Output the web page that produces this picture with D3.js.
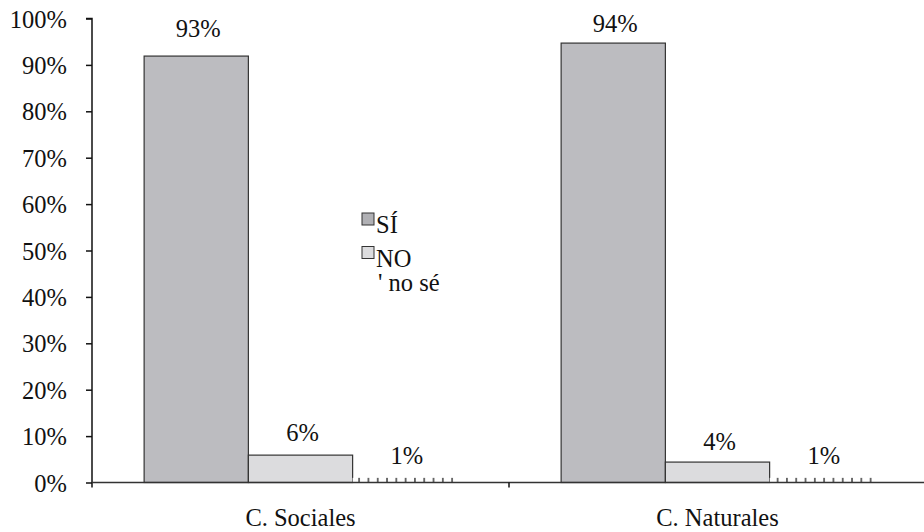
<!DOCTYPE html>
<html><head><meta charset="utf-8">
<script src="https://cdn.jsdelivr.net/npm/d3@7"></script>
</head>
<body style="margin:0">
<svg id="chart" width="924" height="532" font-family="Liberation Serif"></svg>
<script>
// ---- data ----
const categories = ["C. Sociales", "C. Naturales"];
const seriesNames = ["SÍ", "NO", "no sé"];
const siValues = [0.919, 0.947];
const noValues = [0.059, 0.044];
const noseValues = [0.01, 0.01];
const siLabels = [93, 94];
const noLabels = [6, 4];
const noseLabels = [1, 1];
const yTicks = [0, 0.1, 0.2, 0.3, 0.4, 0.5, 0.6, 0.7, 0.8, 0.9, 1.0];

const seriesValues = [siValues, noValues, noseValues];
const seriesLabels = [siLabels, noLabels, noseLabels];
const fills = ["#bcbcc0", "#dcdcde", "url(#ticks)"];
const FS = "24.5px";

const svg = d3.select("#chart");
const W = 924, H = 532;
const m = {left: 92, top: 18.5, bottom: 49.5};
const plotBottom = H - m.bottom;

const y = d3.scaleLinear().domain([0, 1]).range([plotBottom, m.top]);
const x0 = d3.scaleBand().domain(categories).range([m.left, m.left + 2 * 417]).padding(0);
const x1 = d3.scaleBand().domain(seriesNames).range([0, x0.bandwidth()]).paddingInner(0).paddingOuter(0.5);

// pattern for "no sé"
const defs = svg.append("defs");
const pat = defs.append("pattern").attr("id", "ticks")
  .attr("patternUnits", "userSpaceOnUse").attr("width", 9.3).attr("height", 20)
  .attr("x", x0(categories[0]) + x1("no sé"));
pat.append("rect").attr("width", 9.3).attr("height", 20).attr("fill", "#fff");
pat.append("line").attr("x1", 6.5).attr("x2", 6.5).attr("y1", 0).attr("y2", 20)
  .attr("stroke", "#111").attr("stroke-width", 1.2);

// bars
const rows = [];
categories.forEach((c, ci) => {
  seriesNames.forEach((s, si) => {
    rows.push({cat: c, ser: s, si, v: seriesValues[si][ci], lab: seriesLabels[si][ci]});
  });
});

svg.append("g").selectAll("rect").data(rows).join("rect")
  .attr("x", d => x0(d.cat) + x1(d.ser))
  .attr("y", d => y(d.v))
  .attr("width", x1.bandwidth())
  .attr("height", d => plotBottom - y(d.v))
  .attr("fill", d => fills[d.si])
  .attr("stroke", d => d.si < 2 ? "#333" : "none")
  .attr("stroke-width", 1.2);

function styleText(sel) {
  return sel.attr("font-family", "Liberation Serif").style("font-family", "Liberation Serif")
    .style("font-size", FS).style("fill", "#111");
}

// value labels
svg.append("g").selectAll("text").data(rows).join("text")
  .attr("x", d => x0(d.cat) + x1(d.ser) + x1.bandwidth() / 2 + 2)
  .attr("y", d => y(d.lab / 100) - 14)
  .attr("text-anchor", "middle")
  .call(styleText)
  .text(d => d.lab + "%");

// y axis
const yAxis = d3.axisLeft(y).tickValues(yTicks).tickFormat(d3.format(".0%"))
  .tickSize(6).tickPadding(19);
const gy = svg.append("g").attr("transform", `translate(${m.left},0)`).call(yAxis);
gy.attr("font-family", "Liberation Serif").attr("font-size", null);
gy.select(".domain").attr("stroke", "#111").attr("stroke-width", 1.5).attr("d", `M-6,${m.top}H0V${plotBottom + 5}`);
gy.selectAll(".tick line").attr("stroke", "#111").attr("stroke-width", 1.5);
gy.selectAll(".tick text").call(styleText).attr("dy", "0.35em");

// x axis
const gx = svg.append("g").attr("transform", `translate(0,${plotBottom})`);
gx.append("line").attr("x1", m.left).attr("x2", W).attr("y1", 0).attr("y2", 0)
  .attr("stroke", "#333").attr("stroke-width", 1.5);
gx.append("line").attr("x1", x0(categories[1])).attr("x2", x0(categories[1]))
  .attr("y1", 0).attr("y2", 5).attr("stroke", "#111").attr("stroke-width", 1.5);
gx.selectAll("text.cat").data(categories).join("text").attr("class", "cat")
  .attr("x", d => x0(d) + x0.bandwidth() / 2)
  .attr("y", 43)
  .attr("text-anchor", "middle")
  .call(styleText)
  .text(d => d);

// legend
const lg = svg.append("g").attr("transform", "translate(362,213)");
const legendFills = ["#b0b0b4", "#dcdcde"];
seriesNames.forEach((s, i) => {
  const gy0 = i * 33.5;
  if (i < 2) {
    lg.append("rect").attr("x", 0).attr("y", gy0).attr("width", 12).attr("height", 12)
      .attr("fill", legendFills[i]).attr("stroke", "#333").attr("stroke-width", 1);
    lg.append("text").attr("x", 14).attr("y", gy0 + 20).call(styleText).text(s);
  } else {
    lg.append("text").attr("x", 16).attr("y", gy0 + 11).call(styleText).text("' " + s);
  }
});
</script>
</body></html>
